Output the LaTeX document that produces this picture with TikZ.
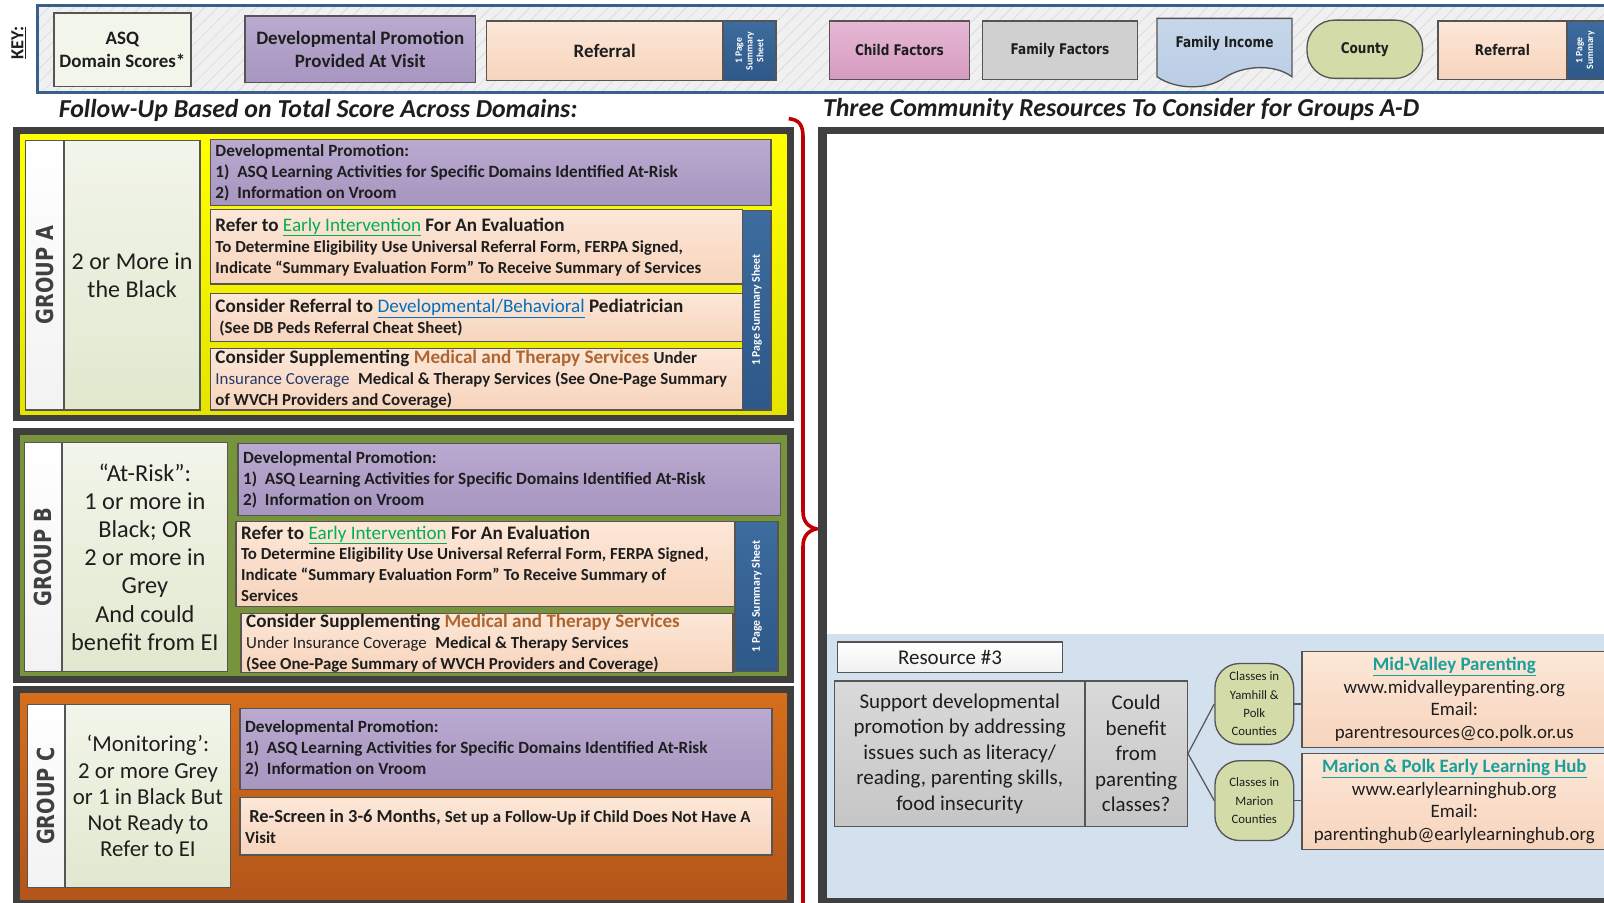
\documentclass[tikz,border=0pt]{standalone}
\usepackage{fontspec}
\setmainfont{Carlito}
\newfontfamily\tahoma[FakeStretch=0.82]{DejaVu Sans}
\usetikzlibrary{patterns.meta}
\definecolor{framedark}{RGB}{63,63,63}
\definecolor{keyblue}{RGB}{58,95,138}
\definecolor{keybg}{RGB}{240,240,240}
\definecolor{hatchgray}{RGB}{216,216,216}
\definecolor{edgegray}{RGB}{85,85,85}
\definecolor{inkdark}{RGB}{30,30,30}
\definecolor{inknavy}{RGB}{38,58,105}
\definecolor{labgray}{RGB}{64,64,64}
\definecolor{devtop}{RGB}{186,170,208}
\definecolor{devbot}{RGB}{166,150,192}
\definecolor{reftop}{RGB}{252,231,216}
\definecolor{refbot}{RGB}{247,212,188}
\definecolor{tabtop}{RGB}{62,108,158}
\definecolor{tabbot}{RGB}{45,88,136}
\definecolor{crittop}{RGB}{242,245,234}
\definecolor{critbot}{RGB}{225,232,206}
\definecolor{grpyellow}{RGB}{255,255,0}
\definecolor{grpyellowb}{RGB}{228,228,0}
\definecolor{grpolive}{RGB}{119,147,60}
\definecolor{grporange}{RGB}{214,110,26}
\definecolor{grporangeb}{RGB}{180,86,26}
\definecolor{pinktop}{RGB}{230,184,212}
\definecolor{pinkbot}{RGB}{214,154,192}
\definecolor{famgray}{RGB}{208,208,208}
\definecolor{incblue}{RGB}{185,205,229}
\definecolor{ctygreen}{RGB}{211,220,168}
\definecolor{resblue}{RGB}{211,224,237}
\definecolor{linkgreen}{RGB}{0,176,80}
\definecolor{linkblue}{RGB}{0,112,192}
\definecolor{medorange}{RGB}{176,101,48}
\definecolor{linkteal}{RGB}{26,160,155}
\definecolor{bracered}{RGB}{192,0,0}
\newcommand{\subbold}{\bfseries\fontsize{16.5}{20.5}\selectfont}
\newcommand{\subreg}{\mdseries\fontsize{16.5}{20.5}\selectfont}

\begin{document}
\begin{tikzpicture}[x=1pt, y=-1pt,
  box/.style={anchor=north west, inner sep=0pt, draw=edgegray, line width=1.3pt, text=inkdark},
  keybox/.style={box, align=center, font=\bfseries\fontsize{18.5}{23}\selectfont},
  factbox/.style={box, align=center, font=\tahoma\bfseries\fontsize{14.4}{18}\selectfont},
  textbox/.style={box, align=left, inner xsep=5pt, execute at begin node={\spaceskip=0pt\xspaceskip=0pt}},
  devbox/.style={textbox, top color=devtop, bottom color=devbot, font=\bfseries\fontsize{16.8}{20.5}\selectfont},
  refbox/.style={textbox, top color=reftop, bottom color=refbot, font=\bfseries\fontsize{18.7}{20.5}\selectfont},
  tabbox/.style={box, top color=tabtop, bottom color=tabbot},
  tabtext/.style={rotate=90, text=white, align=center, font=\bfseries\fontsize{11.5}{12}\selectfont},
  labbox/.style={box, top color=white, bottom color=gray!10},
  labtext/.style={rotate=90, text=labgray, font=\tahoma\bfseries\fontsize{23}{26}\selectfont},
  critbox/.style={box, top color=crittop, bottom color=critbot, align=center},
  graybox/.style={box, top color=famgray!80!white, bottom color=famgray!95!black, align=center,
              font=\fontsize{20.5}{25}\selectfont},
  ctybox/.style={box, fill=ctygreen, rounded corners=24pt, align=center},
  resbox/.style={box, top color=reftop, bottom color=refbot, align=center,
              font=\fontsize{18.5}{22}\selectfont},
  title/.style={anchor=west, text=inkdark, font=\bfseries\itshape\fontsize{25.3}{28}\selectfont},
  wire/.style={draw=edgegray, line width=1.2pt}]
  \useasboundingbox (0,0) rectangle (1568,882);

  % key strip
  \path[fill=keybg] (37,5) rectangle (1600,90);
  \path[pattern={Lines[angle=45,distance=9pt,line width=0.6pt]}, pattern color=hatchgray]
      (37,5) rectangle (1600,90);
  \draw[keyblue, line width=3pt] (37,5) rectangle (1600,90);
  \node[rotate=90, text=inkdark, font=\bfseries\fontsize{18}{20}\selectfont] (keylab) at (18,42) {\underline{KEY:}};

  \node[keybox, fill=crittop, minimum width=134pt, minimum height=72pt] (keyasq) at (52,12) {ASQ\\Domain Scores*};
  \node[keybox, top color=devtop, bottom color=devbot, minimum width=225pt, minimum height=65pt] (keydev) at (239,15)
      {Developmental Promotion\\Provided At Visit};
  \node[keybox, top color=reftop, bottom color=refbot, minimum width=231pt, minimum height=58pt] (keyref) at (475,20) {Referral};
  \node[tabbox, minimum width=52pt, minimum height=58pt] (keytab) at (706,20) {};
  \node[tabtext, font=\bfseries\fontsize{9.5}{10.5}\selectfont] (keytabtxt) at (keytab.center) {1 Page\\Summary\\Sheet};
  \node[factbox, top color=pinktop, bottom color=pinkbot, minimum width=137pt, minimum height=57pt] (keychild) at (810,20) {Child Factors};
  \node[factbox, fill=famgray, minimum width=151pt, minimum height=57pt] (keyfam) at (960,20) {Family Factors};
  \path[draw=edgegray, line width=1.3pt, top color=incblue!80!white, bottom color=incblue]
      (1131,18) -- (1263,18) -- (1263,75) .. controls (1245,62) and (1215,64) .. (1197,76)
      .. controls (1180,88) and (1150,88) .. (1131,75) -- cycle;
  \node[text=inkdark, font=\tahoma\bfseries\fontsize{14.4}{18}\selectfont] (keyinc) at (1197,43) {Family Income};
  \node[factbox, fill=ctygreen, rounded corners=27pt, minimum width=113pt, minimum height=57pt] (keycty) at (1277,19) {County};
  \node[factbox, top color=reftop, bottom color=refbot, minimum width=126pt, minimum height=57pt] (keyref2) at (1405,20) {Referral};
  \node[tabbox, minimum width=50pt, minimum height=57pt] (keytab2) at (1531,20) {};
  \node[tabtext, font=\bfseries\fontsize{9.5}{10.5}\selectfont] (keytab2txt) at ([xshift=-7pt]keytab2.center) {1 Page\\Summary};

  \node[title] (lefttitle) at (54,108) {Follow-Up Based on Total Score Across Domains:};
  \node[title] (righttitle) at (801,107) {Three Community Resources To Consider for Groups A-D};

  % group A
  \fill[framedark] (13,124) rectangle (776,412);
  \path[top color=grpyellow, bottom color=grpyellowb] (20,131) rectangle (769,405);
  \node[labbox, minimum width=38pt, minimum height=263pt] (labA) at (24,137) {};
  \node[labtext] (labAtxt) at (labA.center) {GROUP A};
  \node[critbox, minimum width=133pt, minimum height=263pt, font=\fontsize{23.5}{27}\selectfont] (critA) at (62,137)
      {2 or More in\\the Black};
  \node[devbox, minimum width=548pt, minimum height=64pt, text width=538pt] (devA) at (205,136)
      {Developmental Promotion:\\1)\ \ ASQ Learning Activities for Specific Domains Identified At-Risk\\2)\ \ Information on Vroom};
  \node[refbox, minimum width=520pt, minimum height=73pt, text width=510pt] (refA1) at (205,204)
      {Refer to \textcolor{linkgreen}{\mdseries\underline{Early Intervention}} For An Evaluation\\
       \subbold To Determine Eligibility Use Universal Referral Form, FERPA Signed,\\
       \mbox{Indicate “Summary Evaluation Form” To Receive Summary of Services}};
  \node[refbox, minimum width=520pt, minimum height=47pt, text width=510pt] (refA2) at (205,286)
      {Consider Referral to \textcolor{linkblue}{\mdseries\underline{Developmental/Behavioral}} Pediatrician\\
       \subbold\ (See DB Peds Referral Cheat Sheet)};
  \node[refbox, minimum width=520pt, minimum height=60pt, text width=510pt] (refA3) at (205,340)
      {\mbox{Consider Supplementing \textcolor{medorange}{Medical and Therapy Services} {\subbold Under}}\\
       \mbox{{\subreg\color{inknavy}Insurance Coverage}\ \ \subbold Medical \& Therapy Services (See One-Page Summary}\\
       \subbold of WVCH Providers and Coverage)};
  \node[tabbox, minimum width=28pt, minimum height=195pt] (tabA) at (725,205) {};
  \node[tabtext] (tabAtxt) at (tabA.center) {1 Page Summary Sheet};

  % group B
  \fill[framedark] (13,418) rectangle (776,668);
  \fill[grpolive] (20,425) rectangle (769,661);
  \node[labbox, minimum width=37pt, minimum height=224pt] (labB) at (23,432) {};
  \node[labtext] (labBtxt) at (labB.center) {GROUP B};
  \node[critbox, minimum width=162pt, minimum height=224pt, font=\fontsize{23.8}{27.5}\selectfont] (critB) at (60,432)
      {“At-Risk”:\\1 or more in\\Black; OR\\2 or more in\\Grey\\And could\\benefit from EI};
  \node[devbox, minimum width=530pt, minimum height=70pt, text width=520pt] (devB) at (232,433)
      {Developmental Promotion:\\1)\ \ ASQ Learning Activities for Specific Domains Identified At-Risk\\2)\ \ Information on Vroom};
  \node[refbox, minimum width=488pt, minimum height=83pt, text width=478pt] (refB1) at (230,509)
      {Refer to \textcolor{linkgreen}{\mdseries\underline{Early Intervention}} For An Evaluation\\
       \subbold \mbox{To Determine Eligibility Use Universal Referral Form, FERPA Signed,}\\
       Indicate “Summary Evaluation Form” To Receive Summary of\\Services};
  \node[refbox, minimum width=481pt, minimum height=58pt, text width=471pt] (refB2) at (235,599)
      {Consider Supplementing \textcolor{medorange}{Medical and Therapy Services}\\
       {\subreg Under Insurance Coverage}\ \ \subbold Medical \& Therapy Services\\
       (See One-Page Summary of WVCH Providers and Coverage)};
  \node[tabbox, minimum width=42pt, minimum height=147pt] (tabB) at (718,509) {};
  \node[tabtext] (tabBtxt) at (tabB.center) {1 Page Summary Sheet};

  % group C
  \fill[framedark] (13,671) rectangle (776,890);
  \path[top color=grporange, bottom color=grporangeb] (20,678) rectangle (769,879);
  \node[labbox, minimum width=37pt, minimum height=179pt] (labC) at (26,688) {};
  \node[labtext] (labCtxt) at (labC.center) {GROUP C};
  \node[critbox, minimum width=162pt, minimum height=179pt, font=\fontsize{22.3}{25.5}\selectfont] (critC) at (63,688)
      {‘Monitoring’:\\2 or more Grey\\or 1 in Black But\\Not Ready to\\Refer to EI};
  \node[devbox, minimum width=520pt, minimum height=79pt, text width=510pt] (devC) at (234,692)
      {Developmental Promotion:\\1)\ \ ASQ Learning Activities for Specific Domains Identified At-Risk\\2)\ \ Information on Vroom};
  \node[refbox, minimum width=520pt, minimum height=56pt, text width=510pt, font=\bfseries\fontsize{18}{20.5}\selectfont] (rescreen) at (234,779)
      {\mbox{\ Re-Screen in 3-6 Months, \subbold Set up a Follow-Up if Child Does Not Have A}\\\subbold Visit};

  % brace to the resources
  \draw[bracered, line width=3.5pt] (771,116) .. controls (781,117) and (785,122) .. (785,134)
      -- (785,500) .. controls (785,510) and (790,515) .. (798,517)
      .. controls (790,519) and (785,524) .. (785,534) -- (785,900);

  % resources panel
  \fill[framedark] (800,124) rectangle (1600,885);
  \fill[white] (808,131) rectangle (1600,620);
  \fill[resblue] (808,620) rectangle (1600,878);
  \node[box, top color=white, bottom color=gray!12, minimum width=220pt, minimum height=30pt,
      font=\fontsize{20.5}{24}\selectfont] (res3) at (818,627) {Resource \#3};
  \node[graybox, minimum width=245pt, minimum height=142pt] (support) at (815,665)
      {Support developmental\\promotion by addressing\\issues such as literacy/\\reading, parenting skills,\\food insecurity};
  \node[graybox, minimum width=100pt, minimum height=142pt] (could) at (1060,665)
      {Could\\benefit\\from\\parenting\\classes?};
  \node[ctybox, minimum width=77pt, minimum height=79pt, font=\fontsize{12.5}{18}\selectfont] (yamhill) at (1187,648)
      {Classes in\\Yamhill \&\\Polk\\Counties};
  \node[ctybox, minimum width=77pt, minimum height=78pt, font=\fontsize{12.5}{18}\selectfont] (marion) at (1187,743)
      {Classes in\\Marion\\Counties};
  \node[resbox, minimum width=298pt, minimum height=94pt] (mvp) at (1272,636)
      {\textcolor{linkteal}{\bfseries\underline{Mid-Valley Parenting}}\\www.midvalleyparenting.org\\Email:\\parentresources@co.polk.or.us};
  \node[resbox, minimum width=298pt, minimum height=94pt] (hub) at (1272,736)
      {\textcolor{linkteal}{\bfseries\underline{Marion \& Polk Early Learning Hub}}\\www.earlylearninghub.org\\Email:\\parentinghub@earlylearninghub.org};

  \draw[wire] (could.east) -- (yamhill.west);
  \draw[wire] (could.east) -- (marion.west);
  \draw[wire] (yamhill.east) -- (yamhill.east -| mvp.west);
  \draw[wire] (marion.east) -- (marion.east -| hub.west);
\end{tikzpicture}
\end{document}
